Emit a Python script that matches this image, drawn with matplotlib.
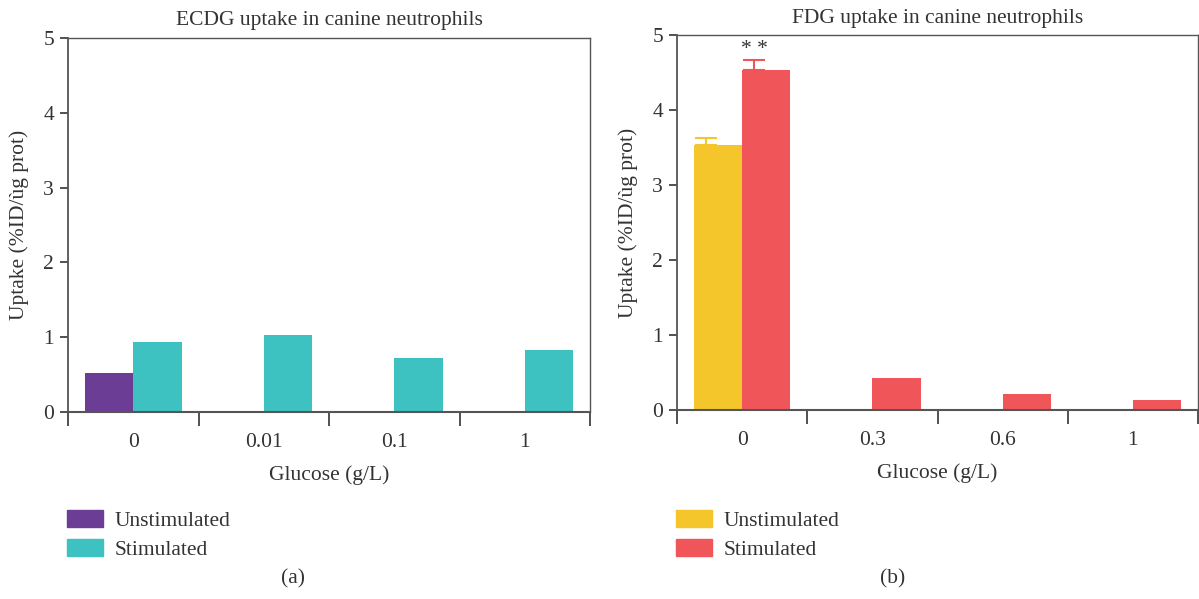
import numpy as np
import matplotlib
matplotlib.use("Agg")
import matplotlib.pyplot as plt
from matplotlib.patches import Patch

plt.rcParams["font.family"] = ["Liberation Serif", "DejaVu Serif"]

# Panel (a): ECDG
ecdg_groups = ["0", "0.01", "0.1", "1"]
ecdg_unstim = [0.52, None, None, None]
ecdg_stim = [0.93, 1.03, 0.72, 0.83]

# Panel (b): FDG
fdg_groups = ["0", "0.3", "0.6", "1"]
fdg_unstim = [3.53, None, None, None]
fdg_unstim_err = [0.10, None, None, None]
fdg_stim = [4.53, 0.43, 0.22, 0.14]
fdg_stim_err = [0.14, 0, 0, 0]

purple = "#6B3D94"
teal = "#3DC1C1"
yellow = "#F4C62C"
red = "#F05659"
dark = "#333333"

W, H = 1199, 599
fig = plt.figure(figsize=(W / 100, H / 100), dpi=100)

ax1 = fig.add_axes([68 / W, (H - 412) / H, (590 - 68) / W, (412 - 38) / H])
ax2 = fig.add_axes([677 / W, (H - 410) / H, (1198 - 677) / W, (410 - 35) / H])

fs = 15.5
bw = 0.37
off = 0.185
err_shift = 0.09  # error bars sit left of bar centres in the original


def style(ax, groups, title):
    n = len(groups)
    ax.set_xlim(-0.5, n - 0.5)
    ax.set_ylim(0, 5)
    ax.set_yticks(range(6))
    ax.set_xticks(np.arange(n + 1) - 0.5)
    ax.set_xticklabels([])
    ax.set_xticks(np.arange(n), minor=True)
    ax.set_xticklabels(groups, minor=True, fontsize=fs, color=dark)
    ax.tick_params(axis="x", which="major", direction="out", length=10, width=1.2, color=dark)
    ax.tick_params(axis="x", which="minor", length=0, pad=15)
    ax.tick_params(axis="y", direction="out", length=6, width=1.2, color=dark,
                   labelsize=fs, labelcolor=dark, pad=4)
    for s in ax.spines.values():
        s.set_color("#555555")
        s.set_linewidth(1.0)
    ax.spines["bottom"].set_linewidth(1.5)
    ax.spines["left"].set_linewidth(1.3)
    ax.set_title(title, fontsize=fs, color=dark, pad=9)
    ax.set_xlabel("Glucose (g/L)", fontsize=fs, color=dark, labelpad=10)
    ax.set_ylabel("Uptake (%ID/ùg prot)", fontsize=fs, color=dark, labelpad=10)


x = np.arange(len(ecdg_groups))
for i in range(len(x)):
    if ecdg_unstim[i] is not None:
        ax1.bar(x[i] - off, ecdg_unstim[i], bw, color=purple)
ax1.bar(x + off, ecdg_stim, bw, color=teal)
style(ax1, ecdg_groups, "ECDG uptake in canine neutrophils")

x = np.arange(len(fdg_groups))
for i in range(len(x)):
    if fdg_unstim[i] is not None:
        ax2.bar(x[i] - off, fdg_unstim[i], bw, color=yellow)
        ax2.errorbar(x[i] - off - err_shift, fdg_unstim[i], yerr=[[0], [fdg_unstim_err[i]]],
                     fmt="none", ecolor=yellow, elinewidth=1.5, capsize=8, capthick=1.5)
ax2.bar(x + off, fdg_stim, bw, color=red)
ax2.errorbar(x[0] + off - err_shift, fdg_stim[0], yerr=[[0], [fdg_stim_err[0]]],
             fmt="none", ecolor=red, elinewidth=1.5, capsize=8, capthick=1.5)
ax2.text(x[0] + off - err_shift, 4.80, "* *", ha="center", va="center",
         fontsize=fs, color=dark)
style(ax2, fdg_groups, "FDG uptake in canine neutrophils")

for xpos, c1, c2 in [(67, purple, teal), (676, yellow, red)]:
    handles = [Patch(color=c1, label="Unstimulated"), Patch(color=c2, label="Stimulated")]
    fig.legend(handles=handles, loc="upper left", bbox_to_anchor=(xpos / W, 1 - 510 / H),
               frameon=False, fontsize=fs, handlelength=1.65, handleheight=0.85,
               handletextpad=0.55, borderpad=0, borderaxespad=0, labelspacing=0.35,
               labelcolor=dark)

fig.text(293 / W, 1 - 579 / H, "(a)", ha="center", va="center", fontsize=fs, color=dark)
fig.text(893 / W, 1 - 579 / H, "(b)", ha="center", va="center", fontsize=fs, color=dark)

fig.savefig("out.png", dpi=100)
